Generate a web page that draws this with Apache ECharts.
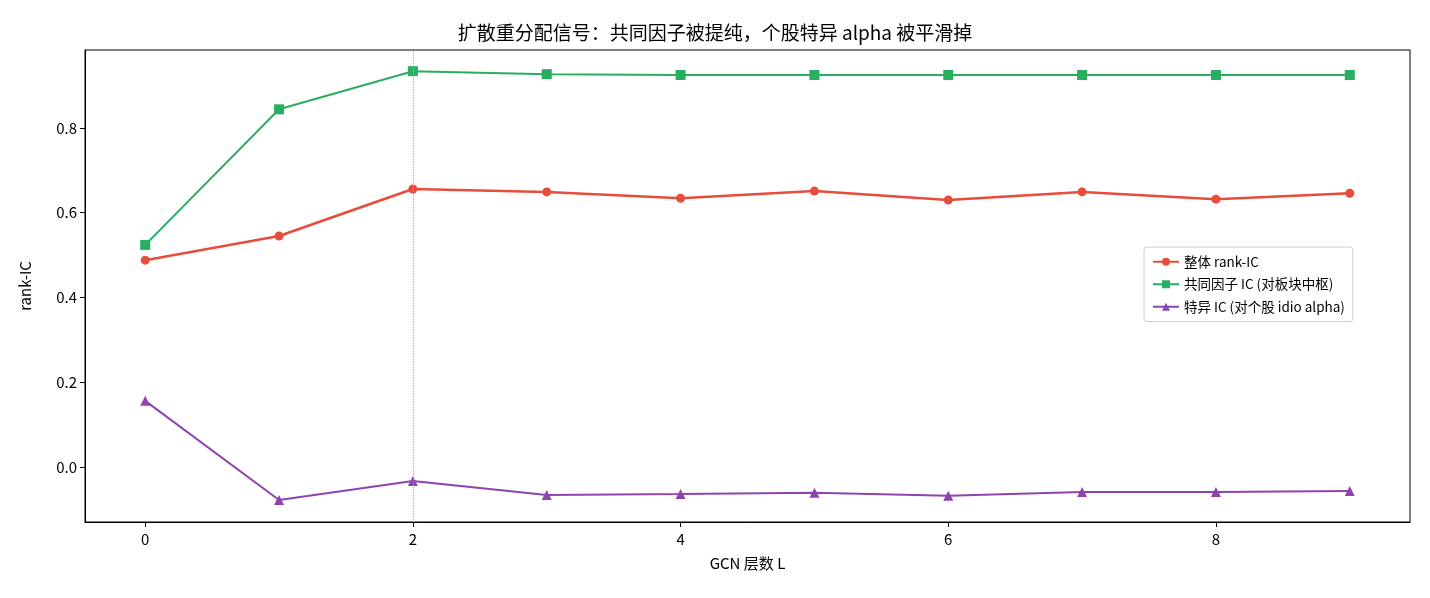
<!DOCTYPE html>
<html><head><meta charset="utf-8">
<script src="https://cdn.jsdelivr.net/npm/echarts@6/dist/echarts.min.js"></script>
<style>html,body{margin:0;padding:0;background:#fff}#c{width:1430px;height:598px}</style>
</head><body><div id="c"></div>
<script>
const layers = [0,1,2,3,4,5,6,7,8,9];
const overall = [0.488,0.545,0.656,0.649,0.634,0.651,0.630,0.649,0.632,0.646];
const common = [0.524,0.844,0.934,0.927,0.925,0.925,0.925,0.925,0.925,0.925];
const idio = [0.156,-0.078,-0.033,-0.066,-0.064,-0.061,-0.068,-0.059,-0.059,-0.057];
const xTicks = [0,2,4,6,8];
const yTicks = [0,0.2,0.4,0.6,0.8];
const names = ['整体 rank-IC','共同因子 IC (对板块中枢)','特异 IC (对个股 idio alpha)'];
const F = '"Noto Sans CJK SC", "DejaVu Sans", sans-serif';
const chart = echarts.init(document.getElementById('c'));
const mk = (n, d, color, sym, size, w) => ({
  name: n, type: 'line', data: layers.map((x,i)=>[x,d[i]]),
  symbol: sym, symbolSize: size, lineStyle:{color, width:w}, itemStyle:{color},
  animation:false
});
const s0 = mk(names[0], overall, '#e74c3c', 'circle', 9, 2.5);
s0.markLine = {silent:true, symbol:'none', label:{show:false},
  lineStyle:{color:'#aaa', type:'dotted', width:1}, data:[{xAxis:2}]};
chart.setOption({
  animation:false,
  title:{text:'扩散重分配信号：共同因子被提纯，个股特异 alpha 被平滑掉', left:'center', top:18,
    textStyle:{fontFamily:F, fontSize:19, fontWeight:'normal', color:'#000'}},
  grid:{left:85, right:20, top:50, bottom:76},
  legend:{orient:'vertical', left:1144, top:247, itemWidth:26, itemHeight:10, itemGap:9,
    padding:[8,8,8,8], borderColor:'#ccc', borderWidth:1, borderRadius:3,
    textStyle:{fontFamily:F, fontSize:13.5, color:'#000'}, data:names},
  xAxis:{type:'value', min:-0.45, max:9.45, name:'GCN 层数 L', nameLocation:'middle', nameGap:34,
    nameTextStyle:{fontFamily:F, fontSize:15, color:'#000'},
    axisLine:{onZero:false, lineStyle:{color:'#000'}},
    axisTick:{show:true, inside:false, customValues:xTicks, length:5, lineStyle:{color:'#000'}},
    axisLabel:{customValues:xTicks, fontFamily:F, fontSize:15, color:'#000', margin:10},
    splitLine:{show:false}},
  yAxis:{type:'value', min:-0.13, max:0.984, name:'rank-IC', nameLocation:'middle', nameGap:52,
    nameTextStyle:{fontFamily:F, fontSize:15, color:'#000'},
    axisLine:{show:true, onZero:false, lineStyle:{color:'#000'}},
    axisTick:{show:true, inside:false, customValues:yTicks, length:5, lineStyle:{color:'#000'}},
    axisLabel:{customValues:yTicks, formatter:v=>v.toFixed(1), fontFamily:F, fontSize:15, color:'#000'},
    splitLine:{show:false}},
  series:[s0, mk(names[1], common, '#27ae60', 'rect', 10, 2), mk(names[2], idio, '#8e44ad', 'triangle', 10, 2)]
});
chart.setOption({graphic:[{type:'rect', shape:{x:85,y:50,width:1325,height:472},
  style:{fill:'none', stroke:'#000', lineWidth:1}, silent:true}]});
</script></body></html>
